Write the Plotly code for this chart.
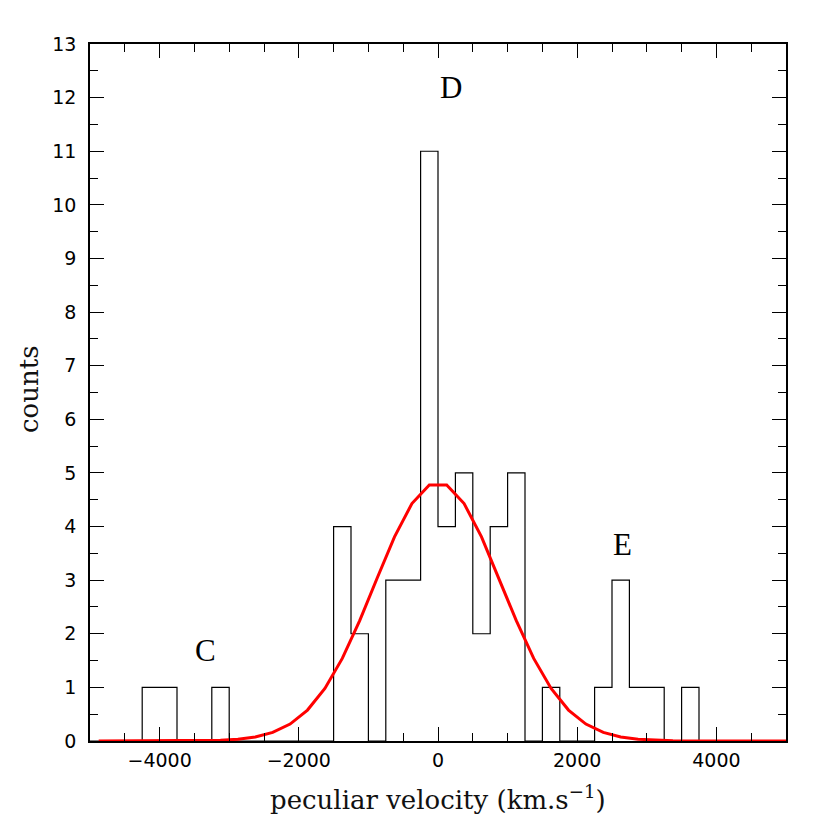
import plotly.graph_objects as go

# Histogram: bin edges (width 250 km/s) and counts
bin_edges = [-5000 + 250 * i for i in range(41)]
counts = [0, 0, 0, 1, 1, 0, 0, 1, 0, 0,
          0, 0, 0, 0, 4, 2, 0, 3, 3, 11,
          4, 5, 2, 4, 5, 0, 1, 0, 0, 1,
          3, 1, 1, 0, 1, 0, 0, 0, 0, 0]

# Fitted gaussian (at bin centres)
gauss_x = [-4875, -4625, -4375, -4125, -3875, -3625, -3375, -3125, -2875, -2625,
           -2375, -2125, -1875, -1625, -1375, -1125, -875, -625, -375, -125,
           125, 375, 625, 875, 1125, 1375, 1625, 1875, 2125, 2375,
           2625, 2875, 3125, 3375, 3625, 3875, 4125, 4375, 4625, 4875, 5125]
gauss_y = [0.0, 0.0, 0.0, 0.0001, 0.0006, 0.0017, 0.005, 0.013, 0.033, 0.075,
           0.16, 0.316, 0.577, 0.979, 1.54, 2.245, 3.036, 3.807, 4.428, 4.775,
           4.775, 4.428, 3.807, 3.036, 2.245, 1.54, 0.979, 0.577, 0.316, 0.16,
           0.075, 0.033, 0.013, 0.005, 0.0017, 0.0006, 0.0001, 0.0, 0.0, 0.0, 0.0]

# Group labels
group_names = ["C", "D", "E"]
group_x = [-3340, 182, 2651]
group_y = [1.68, 12.18, 3.66]

step_x = bin_edges
step_y = counts + [counts[-1]]

fig = go.Figure()
fig.add_trace(go.Scatter(x=step_x, y=step_y, mode="lines",
                         line=dict(shape="hv", color="black", width=1.2),
                         showlegend=False, hoverinfo="skip"))
fig.add_trace(go.Scatter(x=gauss_x, y=gauss_y, mode="lines",
                         line=dict(color="#ff0000", width=3),
                         showlegend=False, hoverinfo="skip"))

for n, x, y in zip(group_names, group_x, group_y):
    fig.add_annotation(x=x, y=y, text=n, showarrow=False,
                       font=dict(family="Liberation Serif", size=31, color="black"),
                       xanchor="center", yanchor="middle")

fig.add_annotation(x=0.5, y=0, xref="paper", yref="paper", yshift=-57,
                   text="peculiar velocity (km.s<sup>−1</sup>)", showarrow=False,
                   font=dict(family="DejaVu Serif", size=26, color="#111111"),
                   xanchor="center", yanchor="middle")
fig.add_annotation(x=0, y=0.505, xref="paper", yref="paper", xshift=-61,
                   text="counts", showarrow=False, textangle=-90,
                   font=dict(family="DejaVu Serif", size=26, color="#111111"),
                   xanchor="center", yanchor="middle")

axis_common = dict(showgrid=False, zeroline=False, showline=True, linecolor="black",
                   linewidth=1.5, mirror="allticks", ticks="inside", ticklen=14,
                   tickwidth=1.3, tickcolor="black",
                   tickfont=dict(family="DejaVu Sans", size=19, color="black"))

fig.update_xaxes(range=[-5000, 5000], dtick=2000, tick0=0, ticklabelstandoff=1,
                 minor=dict(dtick=500, tick0=0, ticklen=8, ticks="inside",
                            tickcolor="black", tickwidth=1.3),
                 **axis_common)
fig.update_yaxes(range=[0, 13], dtick=1, tick0=0, ticklabelstandoff=8,
                 minor=dict(dtick=0.5, tick0=0, ticklen=8, ticks="inside",
                            tickcolor="black", tickwidth=1.3),
                 **axis_common)

fig.update_layout(width=830, height=830, plot_bgcolor="white", paper_bgcolor="white",
                  margin=dict(l=82, r=52, t=36, b=97), showlegend=False)

fig.write_html("out.html")
